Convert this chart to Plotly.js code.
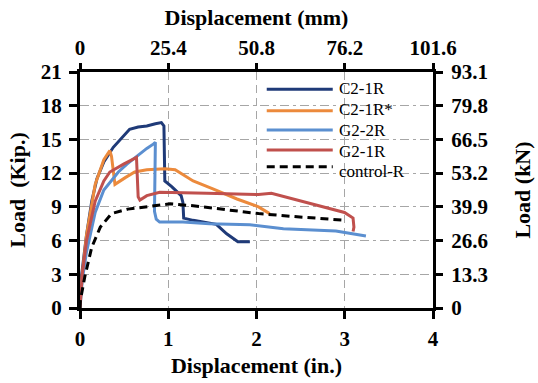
<!DOCTYPE html>
<html><head><meta charset="utf-8">
<script src="https://cdn.plot.ly/plotly-3.0.1.min.js"></script>
<style>html,body{margin:0;padding:0;background:#fff}#c{width:538px;height:383px}</style>
</head><body><div id="c"></div>
<script>
// Displacement (in.) and Load (kip)
const seriesNames = ["C2-1R", "C2-1R*", "G2-2R", "G2-1R", "control-R"];
const c21r_x = [0,0.016,0.074,0.133,0.192,0.27,0.377,0.464,0.562,0.659,0.757,0.854,0.922,0.951,0.961,1.039,1.146,1.166,1.175,1.282,1.438,1.545,1.662,1.789,1.925];
const c21r_y = [0,2.8,6.5,9.5,11.5,13.0,14.3,15.1,15.9,16.1,16.2,16.4,16.5,16.2,11.3,10.8,10.0,9.4,8.0,7.8,7.6,7.45,6.6,5.9,5.9];
const c21rs_x = [0,0.026,0.074,0.172,0.27,0.338,0.357,0.396,0.513,0.62,0.757,0.961,1.078,1.282,1.506,1.779,2.023,2.149];
const c21rs_y = [0,3,6.5,11,13.2,14.0,13.5,11.0,11.6,12.1,12.3,12.4,12.3,11.3,10.6,9.7,9.0,8.4];
const g22r_x = [0,0.026,0.074,0.172,0.27,0.367,0.435,0.532,0.64,0.757,0.834,0.854,0.844,0.864,0.902,1.166,1.467,1.925,2.305,2.899,3.24];
const g22r_y = [0,2.5,5,8.5,10.5,11.5,12.1,12.8,13.5,14.2,14.6,14.75,8.6,7.9,7.65,7.65,7.5,7.4,7.05,6.85,6.4];
const g21r_x = [0,0.026,0.074,0.172,0.27,0.338,0.494,0.64,0.659,0.679,0.757,0.903,1.438,2.023,2.169,2.607,2.997,3.094,3.104,3.094];
const g21r_y = [0,3,6,9.5,11.3,12.1,12.8,13.4,9.9,9.6,10.0,10.3,10.2,10.1,10.2,9.3,8.5,8.0,7.2,6.8];
const ctrl_x = [0,0.005,0.055,0.133,0.23,0.357,0.542,0.815,1.02,1.282,1.584,2.023,2.49,3.016];
const ctrl_y = [0,0.7,2.8,5.4,7.2,8.4,8.8,9.1,9.27,9.1,8.8,8.4,8.1,7.8];

const mmTicks = [0,25.4,50.8,76.2,101.6];
const mmTickText = ["0","25.4","50.8","76.2","101.6"];
const kNTicks = [0,13.3,26.6,39.9,53.2,66.5,79.8,93.1];
const kNTickText = ["0","13.3","26.6","39.9","53.2","66.5","79.8","93.1"];
const inToMm = 25.4, kipToKn = 93.1/21;

const colors = ["#1f3a78", "#ec8a3c", "#5b8fd0", "#c0504d", "#000000"];
const dashes = ["solid","solid","solid","solid","8px,5px"];
const xs = [c21r_x, c21rs_x, g22r_x, g21r_x, ctrl_x];
const ys = [c21r_y, c21rs_y, g22r_y, g21r_y, ctrl_y];

const traces = seriesNames.map((n,i)=>({
  type:"scatter", mode:"lines", name:n, x:xs[i], y:ys[i], showlegend:false,
  line:{color:colors[i], width:3, dash:dashes[i]}
}));
// helper trace for secondary axes (invisible)
traces.push({type:"scatter", mode:"lines", x:ctrl_x.map(v=>v*inToMm), y:ctrl_y.map(v=>v*kipToKn),
  xaxis:"x2", yaxis:"y2", opacity:0, showlegend:false, hoverinfo:"skip", line:{color:"#000"}});

const serif = "Liberation Serif, Times New Roman, serif";
const tickFont = {family:serif, size:21, color:"#000", weight:"bold"};
const titleFont = {family:serif, size:22, color:"#000", weight:"bold"};

// manual legend (paper coords)
const legLineRows = [0.927, 0.836, 0.754, 0.669, 0.598];
const legTextRows = [0.932, 0.843, 0.754, 0.665, 0.580];
const shapes = [{type:"rect", xref:"paper", yref:"paper", x0:0.482, x1:0.99, y0:0.545, y1:0.985,
  fillcolor:"#fff", line:{width:0}, layer:"between"}];
const annotations = [];
seriesNames.forEach((n,i)=>{
  shapes.push({type:"line", xref:"paper", yref:"paper", x0:0.529, x1:0.716, y0:legLineRows[i], y1:legLineRows[i],
    line:{color:colors[i], width:3, dash:dashes[i]}});
  annotations.push({xref:"paper", yref:"paper", x:0.735, y:legTextRows[i], xanchor:"left", yanchor:"middle",
    text:n, showarrow:false, borderpad:0, borderwidth:0, font:{family:serif, size:17, color:"#000"}});
});

const axBase = {showline:true, linewidth:3, linecolor:"#000", ticks:"outside", ticklen:8, tickwidth:3,
  tickcolor:"#000", zeroline:false, tickfont:tickFont};

const layout = {
  width:538, height:383,
  margin:{l:80, r:105, t:72, b:75},
  paper_bgcolor:"#fff", plot_bgcolor:"#fff",
  showlegend:false,
  shapes:shapes, annotations:annotations,
  xaxis:Object.assign({}, axBase, {range:[0,4], dtick:1, tick0:0,
    showgrid:true, gridcolor:"#a6a6a6", gridwidth:1, griddash:"8px,5px", ticklabelstandoff:2,
    title:{text:"Displacement (in.)", font:titleFont, standoff:8}}),
  yaxis:Object.assign({}, axBase, {range:[0,21], dtick:3, tick0:0,
    showgrid:true, gridcolor:"#a6a6a6", gridwidth:1, griddash:"9px,4px,3px,4px", ticklabelstandoff:3,
    title:{text:"Load  (Kip.)", font:titleFont, standoff:10}}),
  xaxis2:Object.assign({}, axBase, {overlaying:"x", side:"top", range:[0,101.6], tickvals:mmTicks, ticktext:mmTickText,
    showgrid:false, ticklen:6, ticklabelstandoff:0,
    title:{text:"Displacement (mm)", font:titleFont, standoff:4}}),
  yaxis2:Object.assign({}, axBase, {overlaying:"y", side:"right", range:[0,93.1], tickvals:kNTicks, ticktext:kNTickText,
    showgrid:false, ticklen:7, ticklabelstandoff:4,
    title:{text:"Load (kN)", font:titleFont, standoff:28}})
};
Plotly.newPlot("c", traces, layout, {staticPlot:true, displayModeBar:false});
</script></body></html>
